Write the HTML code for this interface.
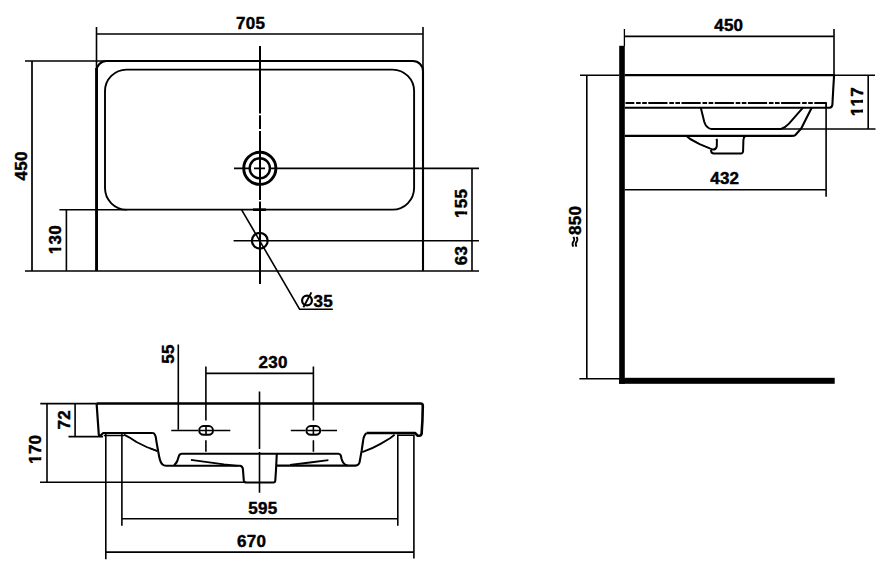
<!DOCTYPE html>
<html><head><meta charset="utf-8"><style>
html,body{margin:0;padding:0;background:#fff;width:892px;height:572px;overflow:hidden}
svg{display:block}
text{font-family:"Liberation Sans",sans-serif;font-weight:bold;font-size:17px;fill:#000;stroke:#000;stroke-width:0.45px;stroke-linejoin:round}
</style></head><body>
<svg width="892" height="572" viewBox="0 0 892 572">
<defs><clipPath id="c1" clipPathUnits="userSpaceOnUse"><rect x="-2" y="-22" width="13.45" height="19.165"/><rect x="3.668" y="-2.735" width="2.933" height="3.335"/></clipPath></defs>
<g fill="none" stroke="#000" stroke-linejoin="round" stroke-linecap="butt">
<!-- ===== PLAN VIEW ===== -->
<!-- dimension / extension lines -->
<path d="M96.5,27 V71 M423,27 V71 M96.5,34 H423" stroke-width="1.6"/>
<path d="M25,61 H106.5 M32,61 V271 M25,271 H479" stroke-width="1.7"/>
<!-- outer outline -->
<path d="M96.5,271 V71 A10,10 0 0 1 106.5,61 H413 A10,10 0 0 1 423,71 V271" stroke-width="2.1"/>
<path d="M96.6,68 V271" stroke-width="2.8"/>
<!-- inner bowl -->
<rect x="105" y="69.6" width="309.1" height="140" rx="21.5" ry="21.5" stroke-width="1.9"/>
<!-- dim 130 -->
<path d="M59.4,209.7 H127 M66.4,209.7 V271" stroke-width="1.6"/>
<!-- centre line vertical -->
<path d="M260,46 V113.4 M260,115.2 V129 M260,131 V200 M260,201.6 V284" stroke-width="2.0"/>
<path d="M253,209.7 H266" stroke-width="2.6"/>
<!-- tap hole -->
<circle cx="259.8" cy="168.3" r="16.1" stroke-width="2.9"/>
<circle cx="259.8" cy="168.3" r="10.1" stroke-width="2.4"/>
<path d="M234,168.4 H249 M254,168.4 H265 M270,168.4 H479" stroke-width="1.6"/>
<!-- overflow -->
<circle cx="259.8" cy="240.7" r="7.9" stroke-width="2.2"/>
<path d="M233.6,240.7 H479" stroke-width="1.6"/>
<!-- dim 155 / 63 -->
<path d="M472,168.4 V271" stroke-width="1.6"/>
<!-- leader d35 -->
<path d="M241.5,209.6 L299.7,309.3 H332.8" stroke-width="1.6"/>
<!-- diameter symbol -->
<circle cx="307" cy="300.5" r="4.9" stroke-width="2.2"/>
<path d="M303.4,307.2 L311.4,292.4" stroke-width="1.9"/>

<!-- ===== SIDE VIEW ===== -->
<rect x="619.2" y="45.8" width="5.6" height="338" fill="#000" stroke="none"/>
<rect x="619.2" y="377.8" width="215.5" height="6" fill="#000" stroke="none"/>
<path d="M624.4,29 V46" stroke-width="1.3"/>
<path d="M624.4,36.4 H834 M834,29 V75" stroke-width="1.6"/>
<path d="M580,75.2 H619.2 M834,75.3 H875 M868.2,75.3 V129 M586.8,75.2 V378.8 M579.4,378.8 H619.2" stroke-width="1.6"/>
<!-- basin top + right edge -->
<path d="M624.8,75.1 H834.1 L833.3,88 L832.4,104.6 Q832,107.6 829.5,107.7 H624.8" stroke-width="2.1"/>
<!-- dashed line -->
<path d="M625.5,103.1 H826.2" stroke-width="2.0" stroke-dasharray="19.2 1.8 4.6 1.5 4.6 1.5" stroke-dashoffset="10.4"/>
<path d="M826.1,102.3 V108" stroke-width="1.8"/>
<!-- 432 ext + dim -->
<path d="M826.1,107.7 V196.8 M624.8,189.7 H826.1" stroke-width="1.6"/>
<!-- inner bowl -->
<path d="M700.8,107.7 L704.3,122 Q705.5,126 707.8,127.4 Q709.2,128.9 711.5,128.9 H781 Q785.5,127.6 789,123.7 L803,107.7" stroke-width="2.0"/>
<path d="M781,129 H875.5" stroke-width="1.6"/>
<!-- bottom line + outer -->
<path d="M624.8,135.9 H791.5 Q794.5,135.9 795.4,135 L801.2,128.5 L811.7,107.8" stroke-width="2.1"/>
<!-- drain -->
<path d="M686.5,136 L690.2,139 L699.6,144.1 L709.8,148.4 L713,149.6 Q716.3,149.6 716.8,146 L716.9,140.2 L716.5,138.8" stroke-width="2.0"/>
<path d="M711,150 Q711,153.5 714,153.5 H741 Q742.9,153.5 743.1,151 L743.4,140 Q743.6,137.4 745,136.4" stroke-width="2.0"/>
<!-- approx sign for 850 -->
<path d="M573.35,246.60 L573.04,245.99 L572.78,245.39 L572.61,244.78 L572.55,244.18 L572.61,243.57 L572.78,242.96 L573.04,242.36 L573.35,241.75 L573.66,241.14 L573.92,240.54 L574.09,239.93 L574.15,239.32 L574.09,238.72 L573.92,238.11 L573.66,237.51 L573.35,236.90" stroke-width="1.9"/>
<path d="M576.55,246.60 L576.24,245.99 L575.98,245.39 L575.81,244.78 L575.75,244.18 L575.81,243.57 L575.98,242.96 L576.24,242.36 L576.55,241.75 L576.86,241.14 L577.12,240.54 L577.29,239.93 L577.35,239.32 L577.29,238.72 L577.12,238.11 L576.86,237.51 L576.55,236.90" stroke-width="1.9"/>

<!-- ===== FRONT VIEW ===== -->
<path d="M40.3,403.6 H96.6" stroke-width="1.7"/>
<!-- top + right edge -->
<path d="M96.6,403.5 H420.6 Q422.9,403.6 422.8,406 L422.4,421 L421.6,433.8 Q421.2,435.8 419.2,435.8 H417.8 L415,433 H366.6" stroke-width="2.6"/>
<path d="M47,403.6 V482.2 M40,482.2 H246 M75.1,403.6 V436.6 M68.5,436.6 H103" stroke-width="1.6"/>
<!-- left edge -->
<path d="M96.6,403.5 L98.8,434.5 Q99.5,436.4 100.8,435.3 L103.2,433 H152.9" stroke-width="2.2"/>
<path d="M103.8,435.5 H124 M397.8,435.3 H413.9" stroke-width="1.5"/>
<!-- vertical ext lines -->
<path d="M105.8,433 V559.2 M121.9,433 V525.8 M397.8,434.5 V525.8 M413.9,434.5 V558.6" stroke-width="1.6"/>
<path d="M121.9,518.8 H397.8 M105.8,552.1 H413.9" stroke-width="1.6"/>
<!-- bowl outline -->
<path d="M152.9,433 Q155.7,433.6 156.2,440.1 L157.6,448.2 L159.1,456.3 Q160.3,462.5 162.5,464.6 Q163.8,465.8 166,465.8 H239.9 Q242.5,466 242.9,469 L243.8,480.4 Q244.3,482.5 246.5,482.5 H273.5 Q275.1,482.5 275.3,480.5 L276,470 L276.8,453.8" stroke-width="2.1"/>
<path d="M276.9,465.6 H355.5 Q358.6,465.4 359.5,462.5 L360.4,457.6 L361.7,450.4 L363,441.5 Q363.6,435.2 366.6,433" stroke-width="2.1"/>
<path d="M174.2,465.3 Q176.5,462.8 177.2,461.3 L178.8,456.3 Q179.6,453.8 181.8,453.8 H338.3 Q340.2,454 340.8,455.5 L341.6,459.1 Q342.5,462.5 344,463.6 Q345.2,465.2 347.5,465.4" stroke-width="2.1"/>
<!-- inner slopes -->
<path d="M124,434.6 Q131,438 136.5,442 L146.6,447 L157.1,451" stroke-width="1.8"/>
<path d="M150,448.2 L157.1,450.9" stroke-width="1.6"/>
<path d="M362.2,452.2 Q372,448.8 381,443.6 L390,438.2 L394.6,434.7" stroke-width="1.8"/>
<path d="M190.9,459.8 L224,464.4 L238,465.8" stroke-width="1.8"/>
<path d="M290,464.8 L310,462.5 L328.4,460.1" stroke-width="1.8"/>
<!-- centre line -->
<path d="M259.5,391.4 V449 M259.5,452 V492.7" stroke-width="1.6"/>
<!-- tap slots -->
<rect x="199.2" y="426.1" width="13.8" height="8.6" rx="4.3" ry="4.3" stroke-width="2.0"/>
<rect x="306.4" y="426.1" width="13.8" height="8.6" rx="4.3" ry="4.3" stroke-width="2.0"/>
<path d="M171.25,430.4 H198.2 M214,430.4 H230.3 M199.5,430.4 H212.8" stroke-width="1.5"/>
<path d="M290.8,430.4 H305.4 M321.2,430.4 H337 M306.7,430.4 H319.9" stroke-width="1.5"/>
<path d="M206,426.5 V434.6 M313.4,426.5 V434.6" stroke-width="1.6"/>
<path d="M205.9,366.5 V420.6 M205.9,440.3 V451.8 M313.4,366.5 V420.6 M313.4,440.3 V451.8" stroke-width="1.6"/>
<path d="M178.3,344.4 V429.7 M205.9,373.4 H313.4" stroke-width="1.6"/>
</g>

<g class="t">
<g transform="translate(250.5,28.6) rotate(0)"><text x="-14.48 -4.73 5.03" y="0">705</text></g>
<g transform="translate(26.6,166) rotate(-90)"><text x="-14.48 -4.73 5.03" y="0">450</text></g>
<g transform="translate(61.2,239.8) rotate(-90)"><text x="-4.73 5.03" y="0">30</text><g transform="translate(-14.48,0)" clip-path="url(#c1)"><text x="0" y="0">1</text></g></g>
<g transform="translate(467,203.6) rotate(-90)"><text x="-4.73 5.03" y="0">55</text><g transform="translate(-14.48,0)" clip-path="url(#c1)"><text x="0" y="0">1</text></g></g>
<g transform="translate(467,255.6) rotate(-90)"><text x="-9.60 0.15" y="0">63</text></g>
<g transform="translate(323.2,306.5) rotate(0)"><text x="-9.60 0.15" y="0">35</text></g>
<g transform="translate(728.6,30.7) rotate(0)"><text x="-14.48 -4.73 5.03" y="0">450</text></g>
<g transform="translate(862.6,101.7) rotate(-90)"><text x="5.03" y="0">7</text><g transform="translate(-14.48,0)" clip-path="url(#c1)"><text x="0" y="0">1</text></g><g transform="translate(-4.73,0)" clip-path="url(#c1)"><text x="0" y="0">1</text></g></g>
<g transform="translate(724.6,183.6) rotate(0)"><text x="-14.48 -4.73 5.03" y="0">432</text></g>
<g transform="translate(581.2,220.6) rotate(-90)"><text x="-14.48 -4.73 5.03" y="0">850</text></g>
<g transform="translate(173.6,354.2) rotate(-90)"><text x="-9.60 0.15" y="0">55</text></g>
<g transform="translate(272.9,367.7) rotate(0)"><text x="-14.48 -4.73 5.03" y="0">230</text></g>
<g transform="translate(70.4,419.9) rotate(-90)"><text x="-9.60 0.15" y="0">72</text></g>
<g transform="translate(41.2,449.4) rotate(-90)"><text x="-4.73 5.03" y="0">70</text><g transform="translate(-14.48,0)" clip-path="url(#c1)"><text x="0" y="0">1</text></g></g>
<g transform="translate(262.8,514.2) rotate(0)"><text x="-14.48 -4.73 5.03" y="0">595</text></g>
<g transform="translate(251.4,547) rotate(0)"><text x="-14.48 -4.73 5.03" y="0">670</text></g>
</g>
</svg>
</body></html>
